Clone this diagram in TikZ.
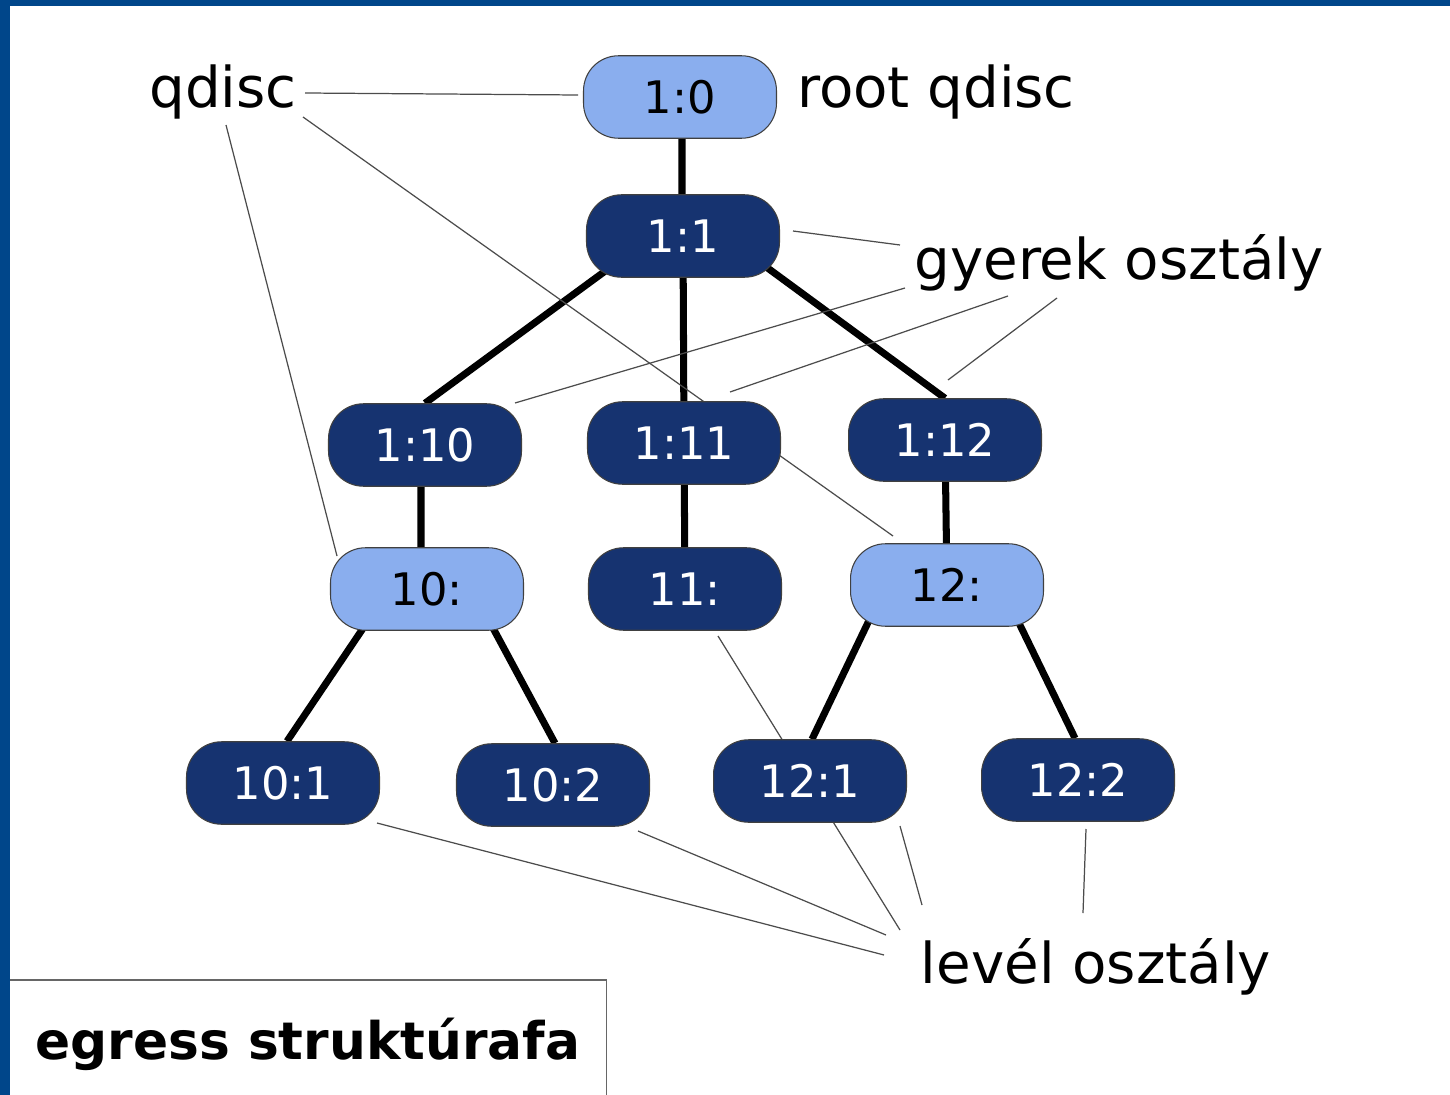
\documentclass[tikz,border=0pt]{standalone}
\usepackage{fontspec}
\setmainfont{DejaVu Sans}
\usetikzlibrary{backgrounds}

\definecolor{navy}{RGB}{22,51,112}
\definecolor{sky}{RGB}{138,174,238}
\definecolor{frameblue}{RGB}{0,70,138}

\begin{document}
\begin{tikzpicture}[x=0.02cm,y=-0.02cm,
    box/.style={rounded corners=0.7cm,draw=black!75,line width=0.6pt,
      minimum width=3.86cm,minimum height=1.65cm,inner sep=0pt,
      font=\fontsize{25.5}{30}\selectfont},
    cls/.style={box,fill=navy,text=white},
    qd/.style={box,fill=sky,text=black},
    tree/.style={line width=4pt},
    pointer/.style={draw=black!70,line width=0.7pt},
    lbl/.style={inner sep=0pt,font=\fontsize{32}{38}\selectfont}]

      \useasboundingbox (0,0) rectangle (1450,1095);

      \begin{scope}[every node/.style={cls}]
        \node[qd] (root) at (680,97) {1:0};
        \node (c1) at (683,236) {1:1};
        \node (c10) at (425,445) {1:10};
        \node (c11) at (684,443) {1:11};
        \node (c12) at (945,440) {1:12};
        \node[qd] (q10) at (427,589) {10:};
        \node (q11) at (685,589) {11:};
        \node[qd] (q12) at (947,585) {12:};
        \node (l101) at (283,783) {10:1};
        \node (l102) at (553,785) {10:2};
        \node (l121) at (810,781) {12:1};
        \node (l122) at (1078,780) {12:2};
      \end{scope}

      \begin{scope}[every node/.style={lbl}]
        \node (qdisc) at (223,92) {qdisc};
        \node (rootq) at (936,92) {root qdisc};
        \node (child) at (1119,263) {gyerek osztály};
        \node (leaf) at (1096,967) {levél osztály};
      \end{scope}

      % pointer ends
      \coordinate (qa) at (305,93);   \coordinate (qa') at (578,95);
      \coordinate (qb) at (226,125);  \coordinate (qb') at (337,556);
      \coordinate (qc) at (303,117);  \coordinate (qc') at (893,536);
      \coordinate (ga) at (900,245);  \coordinate (ga') at (793,231);
      \coordinate (gb) at (905,288);  \coordinate (gb') at (515,403);
      \coordinate (gc) at (1008,296); \coordinate (gc') at (730,392);
      \coordinate (gd) at (1057,298); \coordinate (gd') at (948,380);
      \coordinate (la) at (884,955);  \coordinate (la') at (377,823);
      \coordinate (lb) at (886,935);  \coordinate (lb') at (638,831);
      \coordinate (lc) at (900,930);  \coordinate (lc') at (718,636);
      \coordinate (ld) at (922,905);  \coordinate (ld') at (900,826);
      \coordinate (le) at (1083,913); \coordinate (le') at (1086,829);

      \begin{scope}[on background layer]
        \begin{scope}[every path/.style={tree}]
          \draw ([xshift=0.04cm]root.center) -- ([xshift=-0.02cm]c1.center);
          \draw ([xshift=-0.6cm]c1.center) -- (c10.north);
          \draw (c1) -- (c11);
          \draw ([xshift=0.82cm]c1.center) -- (c12.north);
          \draw ([xshift=-0.08cm]c10.center) -- ([xshift=-0.12cm]q10.center);
          \draw (c11) -- (q11);
          \draw (c12) -- (q12);
          \draw ([xshift=-0.75cm]q10.center) -- ([xshift=0.08cm]l101.north);
          \draw ([xshift=0.9cm]q10.center) -- ([xshift=0.04cm]l102.north);
          \draw ([xshift=-1.22cm]q12.center) -- ([xshift=0.04cm]l121.north);
          \draw ([xshift=1.07cm]q12.center) -- ([xshift=-0.06cm]l122.north);
        \end{scope}

        \begin{scope}[every edge/.style={pointer}]
          \path (qa) edge (qa') (qb) edge (qb') (qc) edge (qc');
          \path (ga) edge (ga') (gb) edge (gb') (gc) edge (gc') (gd) edge (gd');
          \path (la) edge (la') (lb) edge (lb') (lc) edge (lc')
                (ld) edge (ld') (le) edge (le');
        \end{scope}
      \end{scope}

      % title box and frame
      \node[draw=black!60,line width=0.7pt,minimum width=11.94cm,minimum height=2.56cm,
        inner sep=0pt,font=\fontsize{29.5}{36}\selectfont\bfseries] (title) at (308,1044) {egress struktúrafa};
      \fill[frameblue] (0,0) rectangle (1450,6);
      \fill[frameblue] (0,0) rectangle (10,1095);

    \end{tikzpicture}
\end{document}
